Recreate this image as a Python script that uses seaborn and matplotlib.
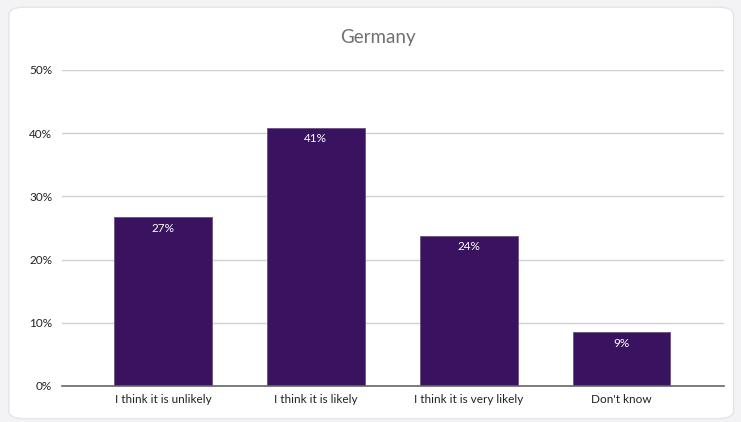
import matplotlib
matplotlib.use('Agg')
import matplotlib.pyplot as plt
from matplotlib.patches import FancyBboxPatch
import seaborn as sns
import pandas as pd

categories = ["I think it is unlikely", "I think it is likely", "I think it is very likely", "Don't know"]
values = [26.7, 40.9, 23.8, 8.5]
value_labels = ["27%", "41%", "24%", "9%"]
y_ticks = [0, 10, 20, 30, 40, 50]
title = "Germany"

sns.set_theme(style="white")
plt.rcParams['font.family'] = ['Lato', 'DejaVu Sans']

df = pd.DataFrame({"answer": categories, "share": values})

fig = plt.figure(figsize=(7.41, 4.22), dpi=100)
fig.patch.set_facecolor("#f3f3f5")
# white rounded card behind the chart
card = FancyBboxPatch((0.012, 0.008), 0.978, 0.975, boxstyle="round,pad=0,rounding_size=0.02",
                      transform=fig.transFigure, facecolor="white", edgecolor="#e4e4e8", lw=1,
                      zorder=-5)
fig.patches.append(card)

ax = fig.add_axes([62 / 741, 1 - 386 / 422, 662 / 741, 316 / 422])
ax.set_facecolor("none")
sns.barplot(data=df, x="answer", y="share", color="#3a1360", saturation=1, width=0.64,
            linewidth=0.6, edgecolor="#6a5080", ax=ax)

ax.set_ylim(0, 50)
ax.set_xlim(-0.66, 3.67)
ax.set_yticks(y_ticks)
ax.set_yticklabels([f"{t}%" for t in y_ticks], fontsize=8.5, color="#222222")
ax.tick_params(axis="x", labelsize=8.5, colors="#222222", length=0, pad=5.5)
ax.tick_params(axis="y", length=0, pad=7)
ax.yaxis.grid(True, color="#d0d0d4", lw=1)
ax.set_axisbelow(True)
for s in ["top", "right", "left"]:
    ax.spines[s].set_visible(False)
ax.spines["bottom"].set_color("#666666")
ax.spines["bottom"].set_linewidth(1.2)
ax.set_xlabel("")
ax.set_ylabel("")

for i, (v, lab) in enumerate(zip(values, value_labels)):
    ax.annotate(lab, (i, v), xytext=(0, -8), textcoords="offset points", ha="center",
                va="center", color="white", fontsize=8.5)

fig.text(0.51, 1 - 37 / 422, title, ha="center", va="center", fontsize=13.5, color="#707070")

fig.savefig("out.png", dpi=100)
